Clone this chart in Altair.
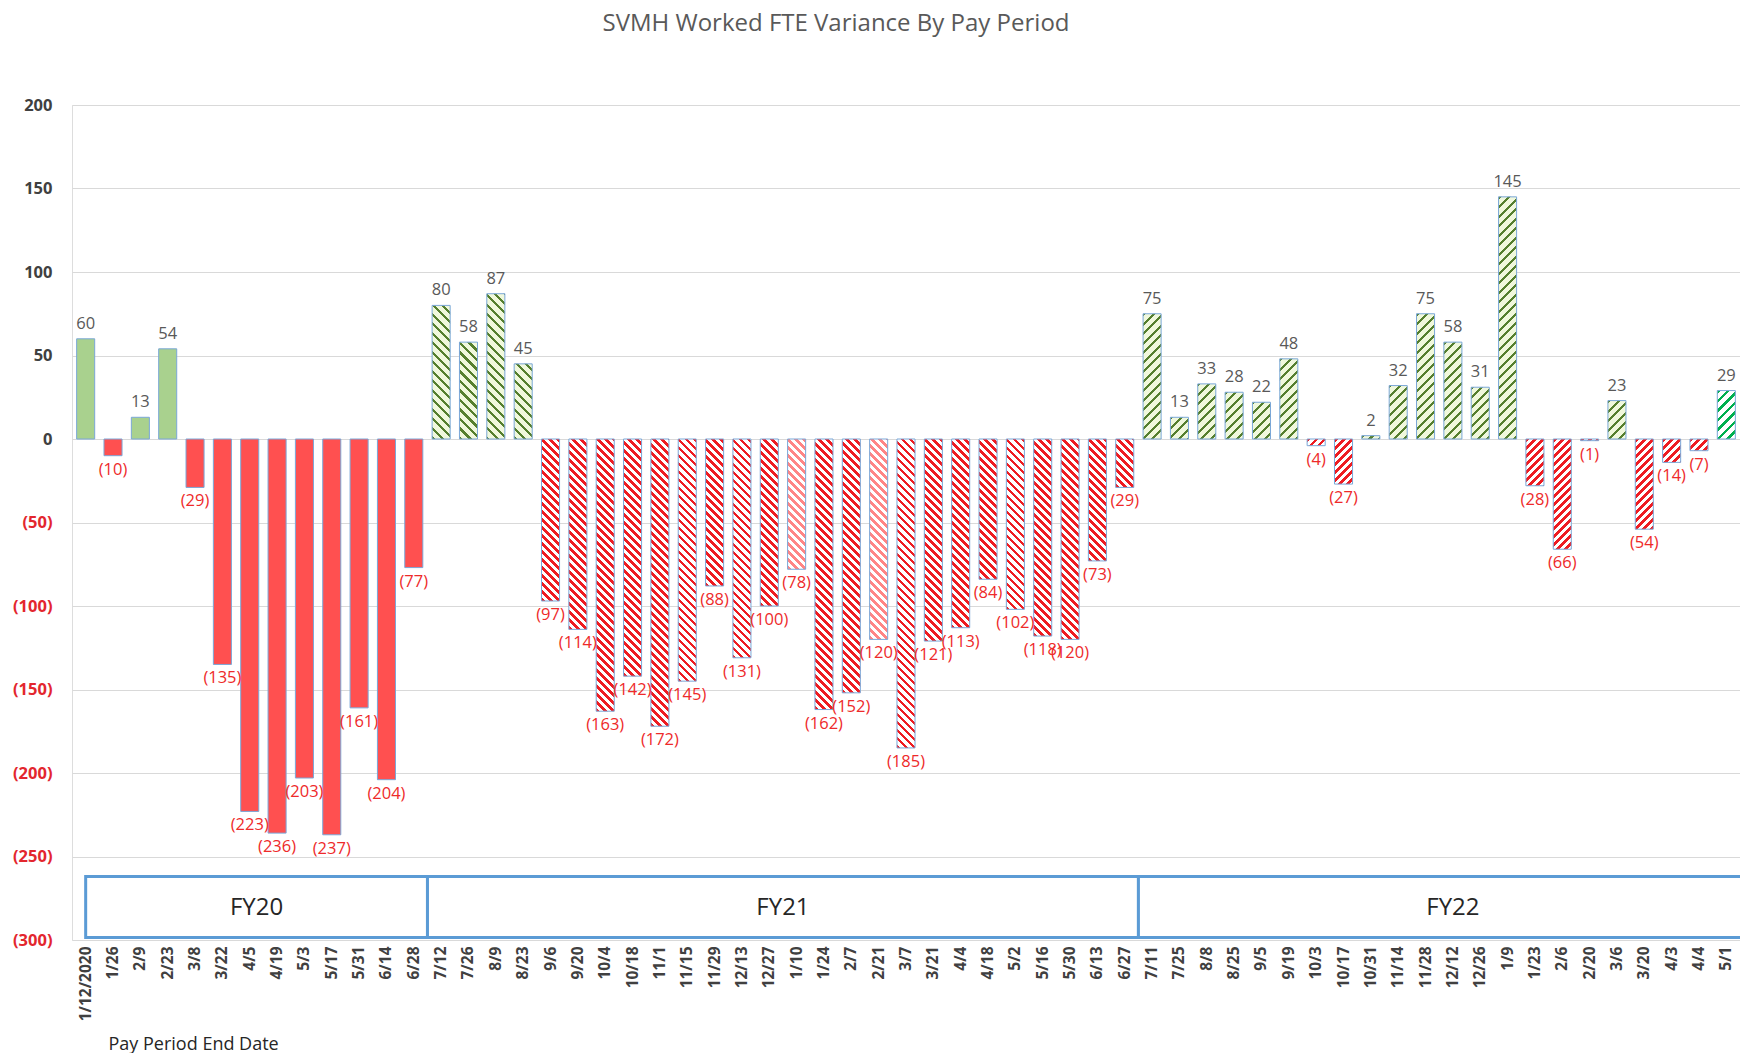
import json
import altair as alt

# ---------------- data ----------------
chart_title = "SVMH Worked FTE Variance By Pay Period"
dates = ["1/12/2020", "1/26", "2/9", "2/23", "3/8", "3/22", "4/5", "4/19", "5/3", "5/17", "5/31", "6/14", "6/28",
         "7/12", "7/26", "8/9", "8/23", "9/6", "9/20", "10/4", "10/18", "11/1", "11/15", "11/29", "12/13", "12/27",
         "1/10", "1/24", "2/7", "2/21", "3/7", "3/21", "4/4", "4/18", "5/2", "5/16", "5/30", "6/13", "6/27",
         "7/11", "7/25", "8/8", "8/25", "9/5", "9/19", "10/3", "10/17", "10/31", "11/14", "11/28", "12/12", "12/26",
         "1/9", "1/23", "2/6", "2/20", "3/6", "3/20", "4/3", "4/4", "5/1"]
values = [60, -10, 13, 54, -29, -135, -223, -236, -203, -237, -161, -204, -77,
          80, 58, 87, 45, -97, -114, -163, -142, -172, -145, -88, -131, -100,
          -78, -162, -152, -120, -185, -121, -113, -84, -102, -118, -120, -73, -29,
          75, 13, 33, 28, 22, 48, -4, -27, 2, 32, 75, 58, 31,
          145, -28, -66, -1, 23, -54, -14, -7, 29]
fy_names = ["FY20", "FY21", "FY22"]
fy_counts = [13, 26, 22]
light_red_idx = [26, 29]
bright_green_idx = [60]
x_axis_title = "Pay Period End Date"

# ---------------- layout / style ----------------
W, H = 1668, 835
N = len(dates)
PAD_INNER = 0.34
STEP = W / N
BW = STEP * (1 - PAD_INNER)
YMIN, YMAX = -300, 200
PPU = H / (YMAX - YMIN)
FONT = "Open Sans"

GREEN_SOLID = "#a9d18e"
RED_SOLID = "#ff5050"
RED_HATCH = "#ee1c22"
RED_HATCH_LIGHT = "#ff8585"
GREEN_HATCH = "#557f2e"
GREEN_BG = "#f0f8dc"
BRIGHT_GREEN = "#00b050"
OUTLINE = "#7aa7d8"


def hatch(h, fg, bg, direction, period, frac):
    """Diagonal stripe gradient for a bar of pixel height h (bounding-box units)."""
    w = BW
    h = max(h, 0.5)
    L = w + h
    stops = []
    t = 0.0
    while t < L - 1e-9:
        a = t / L
        b = min((t + period * frac) / L, 1.0)
        c = min((t + period) / L, 1.0)
        stops += [{"offset": round(a, 5), "color": fg}, {"offset": round(b, 5), "color": fg},
                  {"offset": round(b, 5), "color": bg}, {"offset": round(c, 5), "color": bg}]
        t += period
    k = L * w / (w * w + h * h)
    if direction == "back":
        return {"gradient": "linear", "x1": 0, "y1": 1, "x2": k, "y2": 1 - k * h / w, "stops": stops}
    return {"gradient": "linear", "x1": 0, "y1": 0, "x2": k, "y2": k * h / w, "stops": stops}


fy_of = []
for f, c in enumerate(fy_counts):
    fy_of += [f] * c

records = []
for i, (d, v) in enumerate(zip(dates, values)):
    f = fy_of[i]
    h = abs(v) * PPU
    if f == 0:
        fill = GREEN_SOLID if v >= 0 else RED_SOLID
    else:
        direction = "back" if f == 1 else "fwd"
        if v >= 0:
            if i in bright_green_idx:
                fill = hatch(h, BRIGHT_GREEN, "#ffffff", direction, 9.5, 0.36)
            else:
                fill = hatch(h, GREEN_HATCH, GREEN_BG, direction, 9.5, 0.32)
        else:
            fg = RED_HATCH_LIGHT if i in light_red_idx else RED_HATCH
            fill = hatch(h, fg, "#ffffff", direction, 8.0, 0.48)
    label = f"({abs(v)})" if v < 0 else str(v)
    records.append({"i": i, "date": d, "value": v, "fill": fill, "label": label})

starts, ends = [], []
acc = 0
for c in fy_counts:
    starts.append(acc)
    acc += c
    ends.append(acc)
starts[0] = 0.5          # first box starts at the centre of the first bar
ends[-1] = N + 1         # last box runs off the right edge
box_records = [{"name": n, "start": s, "end": e, "mid": (s + e) / 2}
               for n, s, e in zip(fy_names, starts, ends)]

# ---------------- chart ----------------
data = alt.Data(values=records)
x_scale = alt.Scale(paddingInner=PAD_INNER, paddingOuter=PAD_INNER / 2)
y_scale = alt.Scale(domain=[YMIN, YMAX], nice=False, zero=False)

x_enc = alt.X(
    "i:O", scale=x_scale,
    axis=alt.Axis(
        title=x_axis_title,
        labelExpr=f"{json.dumps(dates)}[datum.value]",
        labelAngle=270, labelFont=FONT, labelFontSize=15.5, labelFontWeight="bold",
        labelColor="#404040", labelPadding=6, ticks=False, domain=False, grid=False,
        titleFont=FONT, titleFontSize=18, titleFontWeight="normal", titleColor="#262626",
        titleAlign="left", titleBaseline="middle", titleX=36, titleY=104,
    ),
)
y_enc = alt.Y(
    "value:Q", scale=y_scale,
    axis=alt.Axis(
        title=None, values=list(range(YMIN, YMAX + 1, 50)),
        labelExpr="datum.value < 0 ? '(' + abs(datum.value) + ')' : datum.value",
        labelColor={"condition": {"test": "datum.value < 0", "value": "#e3262e"}, "value": "#404040"},
        labelFont=FONT, labelFontSize=16.5, labelFontWeight="bold", labelPadding=20,
        minExtent=64, maxExtent=64, ticks=False, domain=False,
        grid=True, gridColor="#d9d9d9", gridWidth=1,
    ),
)

bars = alt.Chart(data).mark_bar(stroke=OUTLINE, strokeWidth=1).encode(
    x=x_enc, y=y_enc, fill=alt.Fill("fill:N", scale=None)
)
pos_labels = alt.Chart(data).transform_filter("datum.value >= 0").mark_text(
    baseline="bottom", dy=-7, font=FONT, fontSize=16.5, color="#595959"
).encode(x=x_enc, y=y_enc, text="label:N")
neg_labels = alt.Chart(data).transform_filter("datum.value < 0").mark_text(
    baseline="top", dy=6, font=FONT, fontSize=16.5, color="#ee2a2a"
).encode(x=x_enc, y=y_enc, text="label:N")

box_data = alt.Data(values=box_records)
bx_scale = alt.Scale(domain=[0, N], nice=False, zero=False)
boxes = alt.Chart(box_data).mark_rect(
    fill="white", stroke="#5b9bd5", strokeWidth=3, clip=True
).encode(
    x=alt.X("start:Q", scale=bx_scale, axis=None),
    x2="end:Q",
    y=alt.YDatum(-262, scale=y_scale),
    y2=alt.Y2Datum(-298.5),
)
box_text = alt.Chart(box_data).mark_text(
    font=FONT, fontSize=24, color="#262626", baseline="middle"
).encode(
    x=alt.X("mid:Q", scale=bx_scale, axis=None),
    y=alt.YDatum(-281, scale=y_scale),
    text="name:N",
)

chart = alt.layer(
    alt.layer(bars, pos_labels, neg_labels),
    alt.layer(boxes, box_text),
).resolve_scale(x="independent").properties(
    width=W, height=H,
    padding={"left": 0, "right": 0, "top": 4, "bottom": 0},
    title=alt.TitleParams(text=chart_title, font=FONT, fontSize=24, fontWeight="normal",
                          color="#595959", anchor="middle", dx=-70, offset=61),
).configure_view(stroke=None).configure(background="white")

chart.save("out.html", embed_options={"renderer": "svg", "actions": False})
